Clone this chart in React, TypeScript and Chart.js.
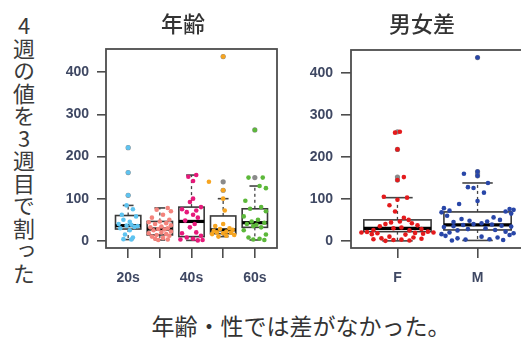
import React, { useEffect, useRef } from 'react';
import { Chart, registerables } from 'chart.js';

Chart.register(...registerables);

// ---------- text ----------
const yAxisText = '4週の値を3週目で割った';
const ageTitle = '年齢';
const sexTitle = '男女差';
const captionText = '年齢・性では差がなかった。';

// ---------- axes ----------
const yTicks = [0, 100, 200, 300, 400];
const yMin = -17;
const yMax = 455;

// ---------- age panel ----------
const ageCategories = ['20s', '30s', '40s', '50s', '60s'];
const ageShownLabels = ['20s', '', '40s', '', '60s'];
const ageColors = ['#5ec3f0', '#f3837c', '#e6197a', '#f7a520', '#5cb83a'];

const ageWhiskerLow = [3, 2, 1, 10, 2];
const ageQ1 = [28, 14, 10, 17, 32];
const ageMedian = [36, 28, 46, 26, 43];
const ageQ3 = [60, 46, 80, 59, 76];
const ageWhiskerHigh = [84, 78, 156, 100, 130];
const ageOutliers = [[221, 162, 108], [], [], [437, 140, 120], [263, 150]];

const age20sValues = [221, 162, 108, 84, 75, 62, 58, 50, 45, 40, 38, 36, 35, 33, 30, 25, 15, 8, 4, 3];
const age20sJitter = [0, 0, 0, -0.05, 0.15, -0.2, 0.25, -0.15, 0.05, -0.3, 0.1, -0.05, 0.3, 0.2, -0.25, 0.05, -0.1, 0.15, -0.15, 0.1];

const age30sValues = [78, 74, 70, 62, 55, 50, 46, 44, 42, 40, 37, 34, 32, 30, 28, 27, 25, 22, 20, 18, 16, 14, 12, 10, 7, 5, 3, 2];
const age30sJitter = [0.25, -0.1, 0.35, 0.1, -0.25, 0.3, 0, -0.35, 0.2, -0.15, 0.35, 0.05, -0.3, 0.25, -0.05, 0.15, -0.2, 0.35, 0.05, -0.35, 0.2, -0.1, 0.3, -0.25, 0.1, -0.15, 0.25, -0.05];

const age40sValues = [156, 152, 142, 100, 92, 80, 75, 72, 68, 62, 55, 48, 40, 32, 20, 18, 12, 8, 5, 3, 2, 1];
const age40sJitter = [0.15, -0.1, 0.05, 0.05, -0.05, 0.3, -0.3, 0.15, -0.15, 0.05, 0.2, -0.2, 0.1, -0.05, 0.15, -0.3, 0.3, -0.15, 0.05, -0.35, 0.35, 0.2];

const age50sValues = [437, 140, 120, 100, 72, 40, 35, 30, 28, 26, 24, 22, 20, 19, 18, 16, 14, 12, 10];
const age50sJitter = [0, -0.45, 0, 0, 0.05, 0, -0.25, 0.2, -0.1, 0.3, -0.3, 0.1, -0.2, 0.25, 0, -0.35, 0.35, 0.1, -0.15];

const age60sValues = [263, 150, 150, 130, 125, 95, 80, 76, 70, 58, 50, 46, 43, 40, 38, 35, 32, 25, 15, 8, 5, 3, 2];
const age60sJitter = [0, -0.2, 0.25, 0.15, 0.35, -0.3, 0.2, -0.15, 0.35, -0.35, 0.1, -0.1, 0.3, -0.25, 0.05, -0.05, 0.2, -0.35, 0.35, -0.2, 0.15, -0.05, 0.3];

// ---------- sex panel ----------
const sexCategories = ['F', 'M'];
const sexColors = ['#e41a1c', '#2846a8'];

const sexWhiskerLow = [0, 1];
const sexQ1 = [22, 26];
const sexMedian = [30, 38];
const sexQ3 = [50, 69];
const sexWhiskerHigh = [103, 138];
const sexOutliers = [[260, 218, 152, 145], [437, 165, 160, 155]];

const femaleValues = [260, 258, 218, 152, 145, 105, 103, 98, 85, 70, 55, 50, 46, 44, 42, 40, 37, 35, 32, 30, 28, 26, 25, 22, 21, 20, 20, 19, 18, 17, 16, 15, 10, 8, 6, 5, 4, 3, 2, 1, 0];
const femaleJitter = [0.03, -0.03, 0, 0.08, 0, -0.17, 0.12, 0, -0.1, -0.03, 0.08, 0.14, 0.03, -0.08, 0.18, -0.15, 0.25, -0.22, 0.05, -0.05, 0.3, -0.3, 0.15, 0.38, -0.38, 0.45, -0.45, 0.22, -0.25, 0.32, -0.32, 0.1, -0.1, 0.2, -0.2, 0.3, -0.3, 0.05, -0.05, 0.15, -0.15];

const maleValues = [437, 165, 160, 155, 138, 128, 126, 115, 95, 88, 78, 76, 74, 72, 70, 68, 65, 60, 56, 52, 50, 48, 46, 45, 42, 40, 39, 38, 36, 35, 34, 33, 30, 28, 26, 25, 22, 20, 18, 16, 14, 12, 10, 8, 6, 4, 3, 2, 1];
const maleJitter = [0, 0, -0.17, 0, 0.13, -0.12, -0.05, 0.08, 0, -0.23, -0.42, 0.4, 0.45, -0.35, 0.35, -0.45, 0.42, -0.38, 0.2, -0.2, 0.28, -0.1, 0.12, -0.3, 0.05, -0.05, 0.18, -0.18, 0.3, -0.3, 0.42, -0.42, 0.1, -0.12, 0.22, -0.25, 0.35, -0.35, 0.45, -0.45, 0.4, -0.4, 0.05, 0.25, -0.25, 0.15, -0.15, 0.32, -0.32];

const ageGroupValues = [age20sValues, age30sValues, age40sValues, age50sValues, age60sValues];
const ageGroupJitter = [age20sJitter, age30sJitter, age40sJitter, age50sJitter, age60sJitter];
const sexGroupValues = [femaleValues, maleValues];
const sexGroupJitter = [femaleJitter, maleJitter];

const TICK_COLOR = '#3f4863';
const AXIS_COLOR = '#4d4d4d';
const FONT = "'Liberation Sans', Arial, sans-serif";

type BoxStats = { lo: number; q1: number; med: number; q3: number; hi: number; out: number[] };

function buildStats(lo: number[], q1: number[], med: number[], q3: number[], hi: number[], out: number[][]): BoxStats[] {
  return lo.map((_, i) => ({ lo: lo[i], q1: q1[i], med: med[i], q3: q3[i], hi: hi[i], out: out[i] }));
}

function boxPlugin(stats: BoxStats[], halfWidth: number, stapleHalf: number) {
  return {
    id: 'boxes',
    beforeDatasetsDraw(chart: any) {
      const { ctx, scales } = chart;
      const x = scales.x;
      const y = scales.y;
      const line = (x1: number, y1: number, x2: number, y2: number) => {
        ctx.beginPath();
        ctx.moveTo(x1, y1);
        ctx.lineTo(x2, y2);
        ctx.stroke();
      };
      ctx.save();
      stats.forEach((s, i) => {
        const c = i + 1;
        const cx = x.getPixelForValue(c);
        const l = x.getPixelForValue(c - halfWidth);
        const r = x.getPixelForValue(c + halfWidth);
        const sl = x.getPixelForValue(c - stapleHalf);
        const sr = x.getPixelForValue(c + stapleHalf);
        const ylo = y.getPixelForValue(s.lo);
        const yq1 = y.getPixelForValue(s.q1);
        const ymed = y.getPixelForValue(s.med);
        const yq3 = y.getPixelForValue(s.q3);
        const yhi = y.getPixelForValue(s.hi);
        // grey outlier markers
        ctx.fillStyle = '#8a8a8a';
        s.out.forEach((v) => {
          ctx.beginPath();
          ctx.arc(cx, y.getPixelForValue(v), 2.6, 0, Math.PI * 2);
          ctx.fill();
        });
        // whiskers
        ctx.strokeStyle = '#444';
        ctx.lineWidth = 1.3;
        ctx.setLineDash([3, 3]);
        line(cx, yq3, cx, yhi);
        line(cx, yq1, cx, ylo);
        ctx.setLineDash([]);
        ctx.lineWidth = 1.6;
        line(sl, yhi, sr, yhi);
        line(sl, ylo, sr, ylo);
        // box
        ctx.fillStyle = '#ffffff';
        ctx.fillRect(l, yq3, r - l, yq1 - yq3);
        ctx.strokeStyle = '#3a3a3a';
        ctx.lineWidth = 1.6;
        ctx.strokeRect(l, yq3, r - l, yq1 - yq3);
        // median
        ctx.strokeStyle = '#000';
        ctx.lineWidth = 3.2;
        line(l, ymed, r, ymed);
      });
      ctx.restore();
    },
    afterDraw(chart: any) {
      const { ctx, chartArea } = chart;
      ctx.save();
      ctx.strokeStyle = AXIS_COLOR;
      ctx.lineWidth = 1.8;
      ctx.strokeRect(chartArea.left, chartArea.top, chartArea.right - chartArea.left, chartArea.bottom - chartArea.top);
      ctx.restore();
    },
  };
}

type PanelSpec = {
  categories: string[];
  shownLabels: string[];
  colors: string[];
  values: number[][];
  jitter: number[][];
  stats: BoxStats[];
  xMin: number;
  xMax: number;
  halfWidth: number;
  stapleHalf: number;
  yAxisWidth: number;
  yTickLength: number;
  padding: { top: number; right: number };
  xAxisHeight: number;
};

function makeConfig(p: PanelSpec): any {
  const datasets = p.categories.map((cat, i) => ({
    label: cat,
    data: p.values[i].map((v, j) => ({ x: i + 1 + p.jitter[i][j], y: v })),
    pointRadius: 2.3,
    pointBackgroundColor: p.colors[i],
    pointBorderWidth: 0,
    showLine: false,
  }));
  return {
    type: 'scatter',
    data: { datasets },
    options: {
      responsive: false,
      animation: false,
      events: [],
      layout: { padding: { top: p.padding.top, right: p.padding.right, left: 0, bottom: 0 } },
      plugins: { legend: { display: false }, tooltip: { enabled: false }, title: { display: false } },
      scales: {
        x: {
          type: 'linear',
          min: p.xMin,
          max: p.xMax,
          afterBuildTicks: (s: any) => {
            s.ticks = p.categories.map((_, i) => ({ value: i + 1 }));
          },
          afterFit: (s: any) => {
            s.height = p.xAxisHeight;
          },
          ticks: {
            autoSkip: false,
            maxRotation: 0,
            padding: 12,
            color: TICK_COLOR,
            font: { family: FONT, size: 14, weight: 'bold' },
            callback: (_v: any, i: number) => p.shownLabels[i],
          },
          grid: { display: true, drawOnChartArea: false, drawTicks: true, tickLength: 10, color: AXIS_COLOR, lineWidth: 1.6 },
          border: { display: false },
        },
        y: {
          type: 'linear',
          min: yMin,
          max: yMax,
          afterBuildTicks: (s: any) => {
            s.ticks = yTicks.map((v) => ({ value: v }));
          },
          afterFit: (s: any) => {
            s.width = p.yAxisWidth;
          },
          ticks: {
            padding: 8,
            color: TICK_COLOR,
            font: { family: FONT, size: 14, weight: 'bold' },
            callback: (v: any) => String(v),
          },
          grid: { display: true, drawOnChartArea: false, drawTicks: true, tickLength: p.yTickLength, color: AXIS_COLOR, lineWidth: 1.6 },
          border: { display: false },
        },
      },
    },
    plugins: [boxPlugin(p.stats, p.halfWidth, p.stapleHalf)],
  };
}

const textBase: React.CSSProperties = {
  position: 'absolute',
  fontFamily: "'Noto Sans CJK JP', 'Noto Sans', sans-serif",
  color: '#333',
  lineHeight: 1,
  whiteSpace: 'nowrap',
  margin: 0,
};

export default function App() {
  const ageRef = useRef<HTMLCanvasElement | null>(null);
  const sexRef = useRef<HTMLCanvasElement | null>(null);

  useEffect(() => {
    const ageChart = new Chart(
      ageRef.current as HTMLCanvasElement,
      makeConfig({
        categories: ageCategories,
        shownLabels: ageShownLabels,
        colors: ageColors,
        values: ageGroupValues,
        jitter: ageGroupJitter,
        stats: buildStats(ageWhiskerLow, ageQ1, ageMedian, ageQ3, ageWhiskerHigh, ageOutliers),
        xMin: 0.3,
        xMax: 5.7,
        halfWidth: 0.4,
        stapleHalf: 0.17,
        yAxisWidth: 66,
        yTickLength: 9,
        padding: { top: 49, right: 13 },
        xAxisHeight: 42,
      })
    );
    const sexChart = new Chart(
      sexRef.current as HTMLCanvasElement,
      makeConfig({
        categories: sexCategories,
        shownLabels: sexCategories,
        colors: sexColors,
        values: sexGroupValues,
        jitter: sexGroupJitter,
        stats: buildStats(sexWhiskerLow, sexQ1, sexMedian, sexQ3, sexWhiskerHigh, sexOutliers),
        xMin: 0.42,
        xMax: 2.58,
        halfWidth: 0.42,
        stapleHalf: 0.19,
        yAxisWidth: 66,
        yTickLength: 10,
        padding: { top: 50, right: 6 },
        xAxisHeight: 42,
      })
    );
    return () => {
      ageChart.destroy();
      sexChart.destroy();
    };
  }, []);

  return (
    <div
      style={{
        position: 'fixed',
        left: 0,
        top: 0,
        width: 521,
        height: 338,
        background: '#fff',
        overflow: 'hidden',
      }}
    >
      <canvas ref={ageRef} width={250} height={290} style={{ position: 'absolute', left: 40, top: 0 }} />
      <canvas ref={sexRef} width={245} height={290} style={{ position: 'absolute', left: 285, top: 0 }} />
      <div
        style={{
          ...textBase,
          left: 13,
          top: 15,
          width: 22,
          fontSize: 22,
          letterSpacing: 0.5,
          writingMode: 'vertical-rl',
          textOrientation: 'upright',
          color: '#3a3a3a',
        }}
      >
        {yAxisText}
      </div>
      <div style={{ ...textBase, left: 183, top: 11, fontSize: 22, fontWeight: 500, transform: 'translateX(-50%)' }}>{ageTitle}</div>
      <div style={{ ...textBase, left: 422, top: 11, fontSize: 22, fontWeight: 500, transform: 'translateX(-50%)' }}>{sexTitle}</div>
      <div style={{ ...textBase, left: 301, top: 314, fontSize: 23, transform: 'translateX(-50%)' }}>{captionText}</div>
    </div>
  );
}
